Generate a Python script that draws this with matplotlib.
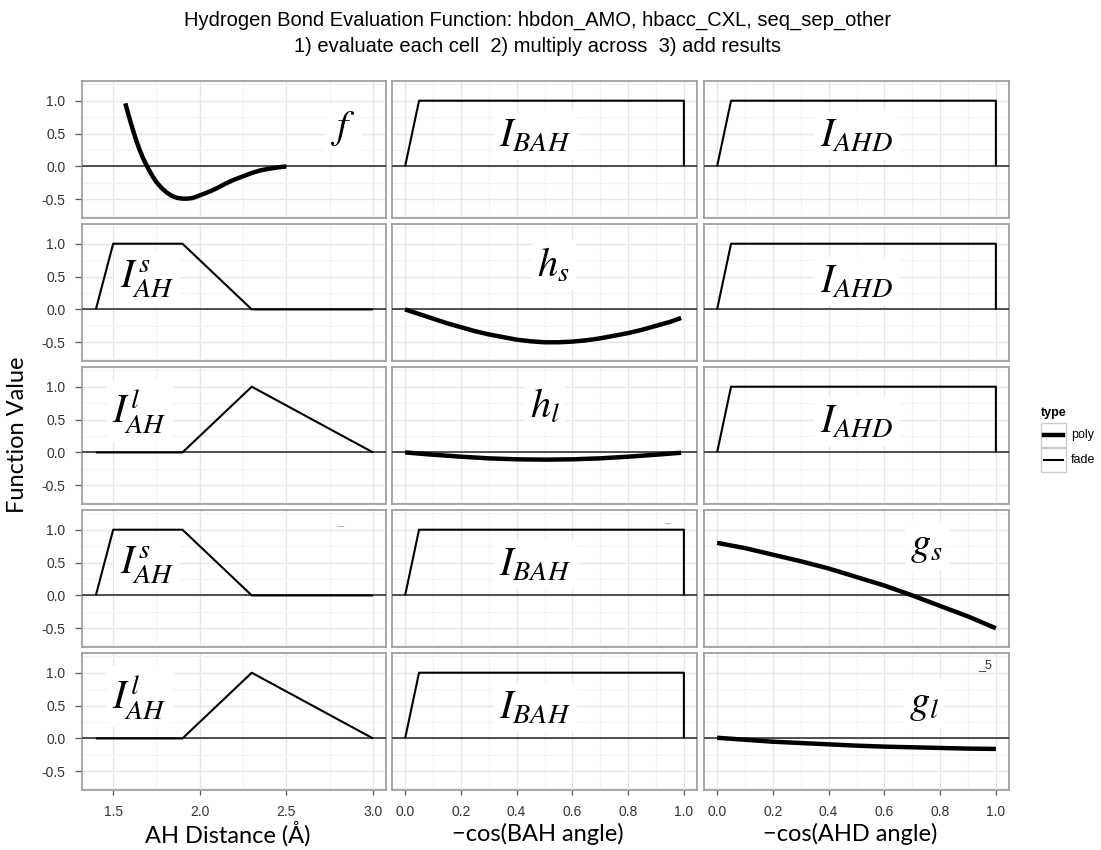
import matplotlib.pyplot as plt
from matplotlib.patches import Rectangle
from matplotlib.lines import Line2D

plt.rcParams["font.family"] = ["Liberation Sans", "DejaVu Sans"]
plt.rcParams["axes.unicode_minus"] = False
plt.rcParams["mathtext.fontset"] = "stix"

W, H = 1101, 850

# polynomial terms (thick lines)
F_X = [1.57, 1.59, 1.61, 1.63, 1.65, 1.67, 1.69, 1.71, 1.73, 1.75, 1.78, 1.81, 1.84, 1.87,
       1.90, 1.93, 1.96, 2.00, 2.05, 2.10, 2.15, 2.20, 2.25, 2.30, 2.35, 2.40, 2.45, 2.50]
F_Y = [0.96, 0.77, 0.59, 0.42, 0.27, 0.14, 0.03, -0.07, -0.16, -0.24, -0.33, -0.40, -0.45, -0.48,
       -0.49, -0.49, -0.48, -0.44, -0.39, -0.33, -0.26, -0.20, -0.15, -0.10, -0.06, -0.035, -0.015, 0.0]
HS_X = [0.0, 0.05, 0.1, 0.15, 0.2, 0.25, 0.3, 0.35, 0.4, 0.45, 0.5,
        0.55, 0.6, 0.65, 0.7, 0.75, 0.8, 0.85, 0.9, 0.95, 0.99]
HS_Y = [0.0, -0.07, -0.14, -0.21, -0.27, -0.33, -0.38, -0.42, -0.46, -0.485, -0.50,
        -0.50, -0.49, -0.47, -0.44, -0.40, -0.36, -0.31, -0.25, -0.19, -0.13]
HL_X = [0.0, 0.1, 0.2, 0.3, 0.4, 0.5, 0.6, 0.7, 0.8, 0.9, 0.99]
HL_Y = [0.0, -0.035, -0.065, -0.09, -0.105, -0.11, -0.105, -0.09, -0.065, -0.035, -0.005]
GS_X = [0.0, 0.05, 0.1, 0.15, 0.2, 0.25, 0.3, 0.35, 0.4, 0.45, 0.5,
        0.55, 0.6, 0.65, 0.7, 0.75, 0.8, 0.85, 0.9, 0.95, 1.0]
GS_Y = [0.80, 0.76, 0.72, 0.67, 0.62, 0.57, 0.52, 0.465, 0.41, 0.345, 0.28,
        0.215, 0.15, 0.075, 0.0, -0.08, -0.16, -0.24, -0.32, -0.41, -0.50]
GL_X = [0.0, 0.1, 0.2, 0.3, 0.4, 0.5, 0.6, 0.7, 0.8, 0.9, 1.0]
GL_Y = [0.01, -0.02, -0.05, -0.07, -0.09, -0.11, -0.125, -0.135, -0.145, -0.155, -0.16]

# fade terms (thin piecewise-linear lines)
AHS_X = [1.4, 1.5, 1.9, 2.3, 3.0]
AHS_Y = [0.0, 1.0, 1.0, 0.0, 0.0]
AHL_X = [1.4, 1.9, 2.3, 3.0]
AHL_Y = [0.0, 0.0, 1.0, 0.0]
ANG_X = [0.0, 0.05, 1.0, 1.0]
ANG_Y = [0.0, 1.0, 1.0, 0.0]

POLY, FADE = "poly", "fade"

# (x, y, type, label) per facet, rows top to bottom
GRID = [
    [(F_X, F_Y, POLY, r"$f$"), (ANG_X, ANG_Y, FADE, r"$I_{BAH}$"), (ANG_X, ANG_Y, FADE, r"$I_{AHD}$")],
    [(AHS_X, AHS_Y, FADE, r"$I_{AH}^{s}$"), (HS_X, HS_Y, POLY, r"$h_{s}$"), (ANG_X, ANG_Y, FADE, r"$I_{AHD}$")],
    [(AHL_X, AHL_Y, FADE, r"$I_{AH}^{l}$"), (HL_X, HL_Y, POLY, r"$h_{l}$"), (ANG_X, ANG_Y, FADE, r"$I_{AHD}$")],
    [(AHS_X, AHS_Y, FADE, r"$I_{AH}^{s}$"), (ANG_X, ANG_Y, FADE, r"$I_{BAH}$"), (GS_X, GS_Y, POLY, r"$g_{s}$")],
    [(AHL_X, AHL_Y, FADE, r"$I_{AH}^{l}$"), (ANG_X, ANG_Y, FADE, r"$I_{BAH}$"), (GL_X, GL_Y, POLY, r"$g_{l}$")],
]
LABEL_POS = [
    [(0.86, 0.65), (0.47, 0.60), (0.50, 0.60)],
    [(0.215, 0.60), (0.53, 0.70), (0.50, 0.58)],
    [(0.19, 0.68), (0.50, 0.71), (0.50, 0.60)],
    [(0.215, 0.60), (0.47, 0.60), (0.73, 0.74)],
    [(0.19, 0.68), (0.47, 0.60), (0.72, 0.63)],
]

Y_TICKS = [-0.5, 0.0, 0.5, 1.0]
Y_MINOR = [-0.75, -0.25, 0.25, 0.75, 1.25]
X_TICKS = [[1.5, 2.0, 2.5, 3.0], [0.0, 0.2, 0.4, 0.6, 0.8, 1.0], [0.0, 0.2, 0.4, 0.6, 0.8, 1.0]]
X_MINOR = [[1.75, 2.25, 2.75], [0.1, 0.3, 0.5, 0.7, 0.9], [0.1, 0.3, 0.5, 0.7, 0.9]]
X_TITLES = ["AH Distance (Å)", "\u2212cos(BAH angle)", "\u2212cos(AHD angle)"]

COL_PX = [(82, 386), (392, 697), (704, 1009)]
ROW_PX = [(81, 218), (224, 361), (367, 504), (510, 647), (653, 790)]
XLIMS = [(1.32, 3.075), (-0.047, 1.047), (-0.047, 1.047)]
YLIM = (-0.785, 1.30)

fig = plt.figure(figsize=(W / 100, H / 100), dpi=100)

for r, row in enumerate(GRID):
    for c, (xs, ys, kind, label) in enumerate(row):
        x0, x1 = COL_PX[c]
        y0, y1 = ROW_PX[r]
        ax = fig.add_axes([x0 / W, 1 - y1 / H, (x1 - x0) / W, (y1 - y0) / H])
        ax.set_xlim(*XLIMS[c])
        ax.set_ylim(*YLIM)
        ax.set_xticks(X_TICKS[c])
        ax.set_xticks(X_MINOR[c], minor=True)
        ax.set_yticks(Y_TICKS)
        ax.set_yticks(Y_MINOR, minor=True)
        ax.set_xticklabels([f"{v:.1f}" for v in X_TICKS[c]])
        ax.set_yticklabels([f"{v:.1f}" for v in Y_TICKS])
        ax.grid(which="major", color="#e6e6e6", lw=1.0)
        ax.grid(which="minor", color="#f2f2f2", lw=0.8)
        ax.set_axisbelow(True)
        for s in ax.spines.values():
            s.set_color("#a0a0a0")
            s.set_linewidth(1.3)
        ax.tick_params(which="minor", length=0)
        ax.tick_params(which="major", width=0.9, color="#555555",
                       labelsize=10, labelcolor="#333333")
        ax.tick_params(axis="x", bottom=(r == 4), labelbottom=(r == 4), length=3.5, pad=7)
        ax.tick_params(axis="y", left=(c == 0), labelleft=(c == 0), length=5, pad=7)

        ax.axhline(0, color="#333333", lw=1.2, zorder=3)
        ax.plot(xs, ys, color="black", lw=3.2 if kind == POLY else 1.5,
                solid_capstyle="butt", solid_joinstyle="round", zorder=4)
        lx, ly = LABEL_POS[r][c]
        ax.text(lx, ly, label, transform=ax.transAxes, ha="center", va="center",
                fontsize=29, zorder=2.5,
                bbox=dict(facecolor="white", edgecolor="none", pad=4))

# small marks left in a few facets
fig.text(985 / W, 1 - 665 / H, "_5", fontsize=9, color="#333333", ha="center", va="center")
fig.text(340 / W, 1 - 522 / H, "_", fontsize=8, color="#999999", ha="center", va="center")
fig.text(667 / W, 1 - 519 / H, "_", fontsize=8, color="#999999", ha="center", va="center")

fig.text(538 / W, 1 - 20 / H, "Hydrogen Bond Evaluation Function: hbdon_AMO, hbacc_CXL, seq_sep_other",
         ha="center", va="center", fontsize=14.5)
fig.text(538 / W, 1 - 47 / H, "1) evaluate each cell  2) multiply across  3) add results",
         ha="center", va="center", fontsize=14.5)

for c, title in enumerate(X_TITLES):
    x0, x1 = COL_PX[c]
    fig.text((x0 + x1) / 2 / W - 0.006, 1 - 834 / H, title, ha="center", va="center",
             fontsize=17, family=["Lato", "DejaVu Sans"])
fig.text(18 / W, 1 - 435 / H, "Function Value", rotation=90, ha="center", va="center",
         fontsize=17, family=["Lato", "DejaVu Sans"])

# legend
fig.text(1041 / W, 1 - 413 / H, "type", fontsize=9, fontweight="bold", ha="left", va="center")
for i, (name, lw) in enumerate([(POLY, 3.2), (FADE, 1.5)]):
    top = 423 + i * 25
    fig.add_artist(Rectangle((1041 / W, 1 - (top + 24) / H), 25 / W, 24 / H,
                             transform=fig.transFigure, facecolor="white",
                             edgecolor="#cccccc", lw=1))
    fig.add_artist(Line2D([1044 / W, 1063 / W], [1 - (top + 12) / H] * 2,
                          transform=fig.transFigure, color="black", lw=lw))
    fig.text(1071 / W, 1 - (top + 12) / H, name, fontsize=9, ha="left", va="center")

fig.savefig("out.png", dpi=100)
